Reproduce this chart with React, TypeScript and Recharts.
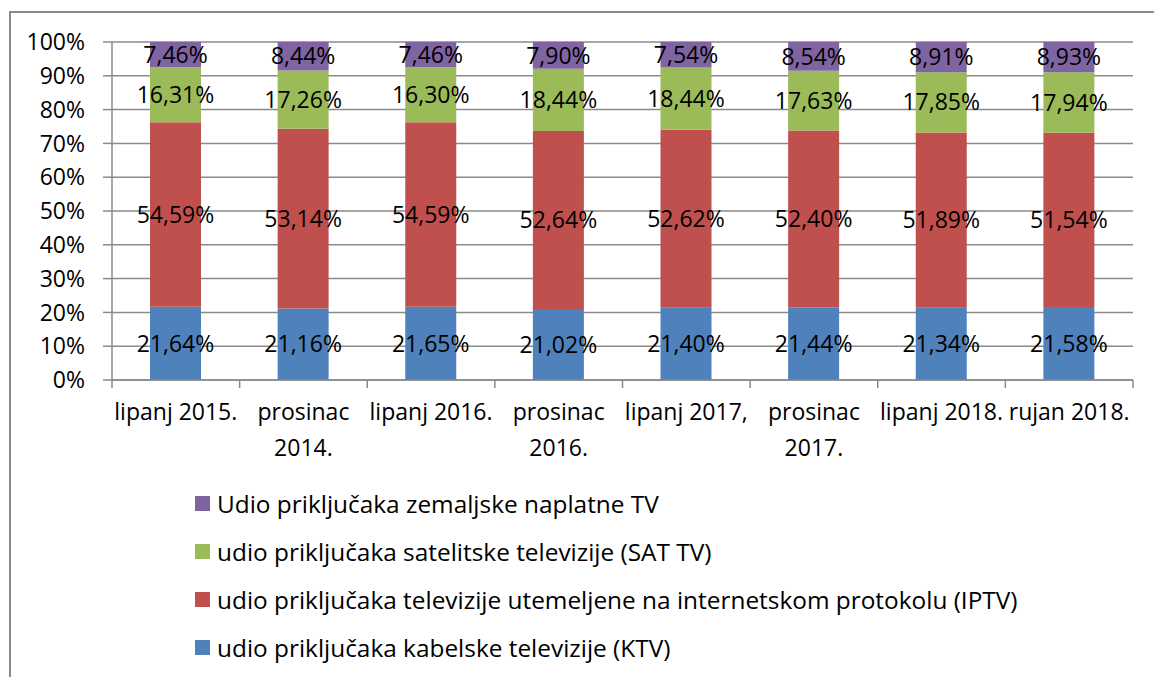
import React from 'react';
import { BarChart, Bar, XAxis, YAxis, CartesianGrid, Legend, LabelList } from 'recharts';

const categories = [
  'lipanj 2015.',
  'prosinac\n2014.',
  'lipanj 2016.',
  'prosinac\n2016.',
  'lipanj 2017,',
  'prosinac\n2017.',
  'lipanj 2018.',
  'rujan 2018.',
];
const ktv = [21.64, 21.16, 21.65, 21.02, 21.4, 21.44, 21.34, 21.58];
const iptv = [54.59, 53.14, 54.59, 52.64, 52.62, 52.4, 51.89, 51.54];
const sat = [16.31, 17.26, 16.3, 18.44, 18.44, 17.63, 17.85, 17.94];
const zem = [7.46, 8.44, 7.46, 7.9, 7.54, 8.54, 8.91, 8.93];
const yTicks = [0, 10, 20, 30, 40, 50, 60, 70, 80, 90, 100];

const seriesNames: Record<string, string> = {
  ktv: 'udio priključaka kabelske televizije (KTV)',
  iptv: 'udio priključaka televizije utemeljene na internetskom protokolu (IPTV)',
  sat: 'udio priključaka satelitske televizije (SAT TV)',
  zem: 'Udio priključaka zemaljske naplatne TV',
};
const legendOrder = ['zem', 'sat', 'iptv', 'ktv'];

const data = categories.map((c, i) => ({
  name: c,
  ktv: ktv[i],
  iptv: iptv[i],
  sat: sat[i],
  zem: zem[i],
}));

const W = 1154;
const H = 677;
const M_LEFT = 0;
const Y_W = 112;
const M_RIGHT = 21;
const PLOT_W = W - M_LEFT - Y_W - M_RIGHT;
const BAND = PLOT_W / categories.length;
const FONT = '"Open Sans", sans-serif';
const FS = 23;
const LEGEND_FS = 24.4;
const GRAY = '#8a8a8a';

const fmt = (v: any) => (typeof v === 'number' ? v.toFixed(2).replace('.', ',') + '%' : v);

const XTick = (props: any) => {
  const { x, y, payload, index } = props;
  const lines = String(payload.value).split('\n');
  const left = x - BAND / 2;
  const right = x + BAND / 2;
  return (
    <g>
      <line x1={left} x2={left} y1={y - 8} y2={y} stroke={GRAY} strokeWidth={1.5} />
      {index === categories.length - 1 && (
        <line x1={right} x2={right} y1={y - 8} y2={y} stroke={GRAY} strokeWidth={1.5} />
      )}
      {lines.map((l, i) => (
        <text
          key={i}
          x={x}
          y={y + 32 + i * 36}
          textAnchor="middle"
          fill="#000"
          fontSize={FS}
          fontFamily={FONT}
        >
          {l}
        </text>
      ))}
    </g>
  );
};

const LegendContent = (props: any) => {
  const payload = props.payload || [];
  const items = legendOrder
    .map((k) => payload.find((p: any) => p.dataKey === k))
    .filter(Boolean);
  return (
    <div style={{ position: 'relative', height: 192, width: W }}>
      {items.map((it: any, i: number) => (
        <div
          key={i}
          style={{
            position: 'absolute',
            left: 195,
            top: i * 48,
            height: 48,
            display: 'flex',
            alignItems: 'center',
            fontFamily: FONT,
            fontSize: LEGEND_FS,
            color: '#000',
            whiteSpace: 'nowrap',
          }}
        >
          <span style={{ display: 'inline-block', width: 15, height: 15, background: it.color, marginRight: 7 }} />
          <span>{it.value}</span>
        </div>
      ))}
    </div>
  );
};

export default function App() {
  return (
    <div style={{ position: 'absolute', left: 0, top: 0, width: W, height: H, background: '#fff', overflow: 'hidden' }}>
      <div
        style={{
          position: 'absolute',
          left: 9,
          top: 11,
          width: W,
          height: H,
          borderTop: `2px solid ${GRAY}`,
          borderLeft: `2px solid ${GRAY}`,
        }}
      />
      <div style={{ position: 'absolute', left: 0, top: 0 }}>
        <BarChart
          width={W}
          height={H}
          data={data}
          margin={{ top: 42, right: M_RIGHT, left: M_LEFT, bottom: 6 }}
        >
          <CartesianGrid vertical={false} stroke={GRAY} strokeWidth={1.5} />
          <XAxis
            dataKey="name"
            axisLine={{ stroke: GRAY, strokeWidth: 1.5 }}
            tickLine={false}
            tickSize={8}
            tickMargin={0}
            height={99}
            interval={0}
            tick={<XTick />}
          />
          <YAxis
            domain={[0, 100]}
            ticks={yTicks}
            allowDataOverflow
            width={Y_W}
            tickFormatter={(v: number) => `${v}%`}
            axisLine={{ stroke: GRAY, strokeWidth: 1.5 }}
            tickLine={{ stroke: GRAY, strokeWidth: 1.5 }}
            tickSize={9}
            tickMargin={18}
            tick={{ fill: '#000', fontSize: FS, fontFamily: FONT }}
          />
          <Legend verticalAlign="bottom" wrapperStyle={{ left: 0, width: W }} content={<LegendContent />} />
          <Bar dataKey="ktv" name={seriesNames.ktv} stackId="a" fill="#4F81BD" barSize={51} isAnimationActive={false}>
            <LabelList dataKey="ktv" position="center" formatter={fmt} fill="#000" fontSize={FS} fontFamily={FONT} />
          </Bar>
          <Bar dataKey="iptv" name={seriesNames.iptv} stackId="a" fill="#C0504D" barSize={51} isAnimationActive={false}>
            <LabelList dataKey="iptv" position="center" formatter={fmt} fill="#000" fontSize={FS} fontFamily={FONT} />
          </Bar>
          <Bar dataKey="sat" name={seriesNames.sat} stackId="a" fill="#9BBB59" barSize={51} isAnimationActive={false}>
            <LabelList dataKey="sat" position="center" formatter={fmt} fill="#000" fontSize={FS} fontFamily={FONT} />
          </Bar>
          <Bar dataKey="zem" name={seriesNames.zem} stackId="a" fill="#8064A2" barSize={51} isAnimationActive={false}>
            <LabelList dataKey="zem" position="center" formatter={fmt} fill="#000" fontSize={FS} fontFamily={FONT} />
          </Bar>
        </BarChart>
      </div>
    </div>
  );
}
